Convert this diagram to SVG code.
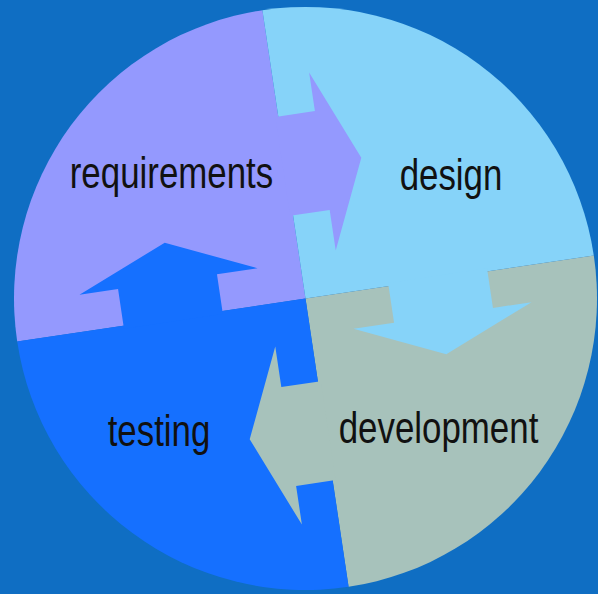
<svg xmlns="http://www.w3.org/2000/svg" width="598" height="594" viewBox="0 0 598 594">
  <style>
    .lbl { font-family: "Liberation Sans", Arial, sans-serif; font-size: 45px; fill: #111111; text-anchor: middle; }
  </style>
  <defs>
    <polygon id="arrow" points="-3,-184 37,-184 37,-223 76,-131 37,-43 37,-84 -3,-84"/>
  </defs>
  <rect width="598" height="594" fill="#0F6EC3"/>
  <g id="requirements">
    <path transform="translate(305.5,298.5) rotate(-8.5)" d="M0 0 V-291.5 A291.5 291.5 0 0 0 -291.5 0 Z" fill="#9499FE"/>
    <text class="lbl" transform="translate(171.5,187.5) scale(0.775,1)">requirements</text>
  </g>
  <g id="design">
    <path transform="translate(305.5,298.5) rotate(-8.5)" d="M0 0 V-291.5 A291.5 291.5 0 0 1 291.5 0 Z" fill="#86D3F9"/>
    <text class="lbl" transform="translate(451,190) scale(0.775,1)">design</text>
  </g>
  <g id="development">
    <path transform="translate(305.5,298.5) rotate(-8.5)" d="M0 0 H291.5 A291.5 291.5 0 0 1 0 291.5 Z" fill="#A7C2BB"/>
    <text class="lbl" transform="translate(438.5,443) scale(0.775,1)">development</text>
  </g>
  <g id="testing">
    <path transform="translate(305.5,298.5) rotate(-8.5)" d="M0 0 V291.5 A291.5 291.5 0 0 1 -291.5 0 Z" fill="#1570FF"/>
    <text class="lbl" transform="translate(159,445.5) scale(0.775,1)">testing</text>
  </g>
  <g id="connectors" transform="translate(305.5,298.5) rotate(-8.5)">
    <use href="#arrow" fill="#9499FE"/>
    <use href="#arrow" fill="#86D3F9" transform="rotate(90)"/>
    <use href="#arrow" fill="#A7C2BB" transform="rotate(180)"/>
    <use href="#arrow" fill="#1570FF" transform="rotate(270)"/>
  </g>
</svg>
